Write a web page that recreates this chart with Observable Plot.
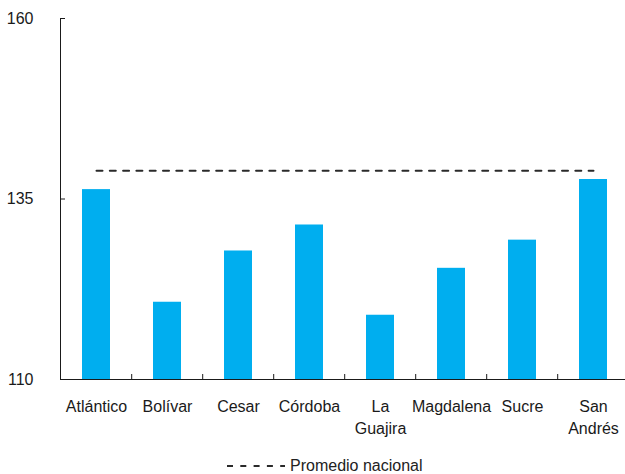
<!DOCTYPE html>
<html>
<head>
<meta charset="utf-8">
<script src="https://cdn.jsdelivr.net/npm/d3@7"></script>
<script src="https://cdn.jsdelivr.net/npm/@observablehq/plot@0.6"></script>
<style>
  html, body { margin: 0; padding: 0; background: #fff; }
  body { width: 625px; height: 474px; overflow: hidden; font-family: "Liberation Sans", Arial, Helvetica, sans-serif; }
  #legend { display: flex; align-items: center; margin-left: 227px; margin-top: 10px; font-size: 16px; color: #222; height: 22px; }
  #legend svg { margin-right: 5px; }
</style>
</head>
<body>
<div id="chart"></div>
<div id="legend"></div>
<script>
const categories = ["Atlántico", "Bolívar", "Cesar", "Córdoba", "La Guajira", "Magdalena", "Sucre", "San Andrés"];
const tickLabels = ["Atlántico", "Bolívar", "Cesar", "Córdoba", "La\nGuajira", "Magdalena", "Sucre", "San\nAndrés"];
const values = [136.3, 120.7, 127.8, 131.4, 118.9, 125.4, 129.3, 137.7];
const promedioNacional = 138.9;
const yTicks = [110, 135, 160];
const legendLabel = "Promedio nacional";

const data = categories.map((c, i) => ({category: c, value: values[i]}));
const labelOf = new Map(categories.map((c, i) => [c, tickLabels[i]]));

const font = '"Liberation Sans", Arial, Helvetica, sans-serif';
const ink = "#1a1a1a";

const chart = Plot.plot({
  width: 625,
  height: 445,
  marginTop: 18,
  marginBottom: 66,
  marginLeft: 60,
  marginRight: 0,
  style: {fontFamily: font, fontSize: "16px", color: ink, background: "#fff", overflow: "visible"},
  x: {domain: categories, range: [60, 630], paddingInner: 0.6, paddingOuter: 0.3, axis: null, label: null},
  y: {domain: [110, 160], axis: null, label: null},
  marks: [
    Plot.barY(data, {x: "category", y1: 110, y2: "value", fill: "#00AEEF"}),
    Plot.lineY(categories, {x: d => d, y: () => promedioNacional, stroke: "#2a2a2a", strokeWidth: 2, strokeDasharray: "6,7.3"}),
    Plot.ruleY([110], {stroke: ink, strokeWidth: 1}),
    Plot.axisY({ticks: yTicks, tickSize: 5, dx: 5, tickPadding: 27, fontSize: 16, stroke: ink, fill: ink, label: null, tickFormat: d => String(d)}),
    Plot.axisX({tickSize: 0, tickPadding: 17, fontSize: 16, lineHeight: 1.375, fill: ink, label: null, tickFormat: d => labelOf.get(d)})
  ]
});
document.getElementById("chart").appendChild(chart);

// Axis line (left) and band-boundary ticks on the category axis, from the plot's own scales
const sx = chart.scale("x");
const sy = chart.scale("y");
const svg = d3.select(chart.tagName.toLowerCase() === "svg" ? chart : chart.querySelector("svg"));
const yTop = sy.apply(160), yBot = sy.apply(110);
const xLeft = sx.range[0];
svg.append("line").attr("x1", xLeft).attr("x2", xLeft).attr("y1", yTop).attr("y2", yBot)
  .attr("stroke", ink).attr("stroke-width", 1).attr("shape-rendering", "crispEdges");
const step = sx.step !== undefined ? sx.step : (sx.range[1] - sx.range[0]) / categories.length;
const inner = sx.paddingInner !== undefined ? sx.paddingInner : 0.6;
categories.slice(1).forEach(c => {
  const bx = sx.apply(c) - step * inner / 2;
  svg.append("line").attr("x1", bx).attr("x2", bx).attr("y1", yBot).attr("y2", yBot - 5)
    .attr("stroke", ink).attr("stroke-width", 1);
});

// Legend
const legend = d3.select("#legend");
const ls = legend.append("svg").attr("width", 58).attr("height", 10);
ls.append("line").attr("x1", 0).attr("x2", 58).attr("y1", 5).attr("y2", 5)
  .attr("stroke", "#2a2a2a").attr("stroke-width", 2).attr("stroke-dasharray", "6,7.3");
legend.append("span").text(legendLabel);
</script>
</body>
</html>
